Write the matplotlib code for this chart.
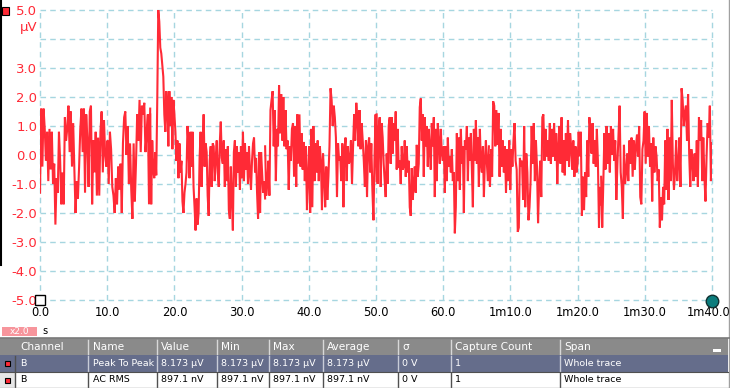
import numpy as np
import matplotlib
matplotlib.use("Agg")
import matplotlib.pyplot as plt
import matplotlib.transforms as mtransforms
from matplotlib.patches import Rectangle

# ---------------- data (μV), six consecutive stretches of the trace ----------------
seg1_span = (0.0, 16.4)
seg1 = [-1.3, 1.6, -0.4, 1.6, 0.9, -0.2, 0.8, -0.9, 0.9, -0.5, 0.8, -1.0, -0.3, -2.4, -0.8, -1.3,
        0.8, -0.2, -1.7, -0.6, -1.7, 1.3, 0.5, 0.9, 1.7, 0.1, 1.5, -0.4, 1.1, -0.5, -2.0, -0.9,
        -1.5, -0.4, 0.9, 1.6, 0.1, 1.6, -1.3, 1.4, 0.5, -1.1, 1.5, 1.7, -1.7, 0.5, -0.6, 0.8,
        -1.4, 0.6, -1.4, 0.8, 1.5, -0.6, 1.2, 0.0, -0.4, 0.5, -1.0, 0.8, 0.2, -1.1, -1.4, -2.0,
        -0.8, -1.7, -0.4, -1.2, -0.3, -2.0, 0.4, 1.3, 1.5, 0.0, 1.0, -1.0, 0.4, -1.2, -2.2, 0.4,
        -1.6, -0.3, 1.4, 0.5, 1.9, 0.1, 1.7, 1.4, 1.8, 0.1, 0.8, 1.4, -1.7, 1.6]

seg2_span = (16.4, 33.5)
seg2 = [1.4, -1.7, 0.5, -0.5, -0.8, 0.1, -0.7, 1.9, 5.0, 4.6, 3.7, 3.5, 3.1, 2.7, 1.4, 0.8,
        2.2, 1.7, 0.3, 2.2, 1.0, 2.0, 0.2, 1.9, 1.4, 0.8, -0.2, 0.5, -0.8, 0.4, -0.6, -0.2,
        -1.6, -2.0, -1.3, -1.0, -0.6, 1.0, 0.3, -0.8, 0.8, -0.4, 0.8, -1.1, -1.8, -2.6, -1.5, -2.4,
        -2.0, -0.1, 0.8, -1.1, 0.3, 1.4, -0.4, 0.4, 0.1, -1.4, -2.1, -0.2, 0.3, -1.1, 0.4, 0.3,
        -0.9, -0.1, 0.5, -0.6, -1.1, 0.4, 1.15, -0.1, -0.3, 0.5, -1.1, 0.2, -0.9, 0.3, -1.9, -2.2,
        -0.4, -1.5, -2.6, 0.1, 0.5, -1.1, 0.3, -0.6, 0.1, -1.2, 0.3, -0.8, 0.8, -0.9, 0.4, -0.5,
        0.1, -1.0, 0.3, -0.6, -1.2, -0.2, 0.4, 0.6, -0.6, -0.1, -1.3, -2.2, 0.1, -2.0, 0.1, -0.6,
        -1.3, -0.9, -1.5]

seg3_span = (33.5, 50.1)
seg3 = [0.3, -1.4, -1.0, -0.2, -1.4, 1.55, 1.9, 2.2, 0.3, 1.55, -0.9, 0.9, 0.3, 2.4, 0.75, 2.1,
        0.5, 2.0, 0.3, 1.55, 0.2, 0.5, -1.2, 0.3, -0.2, 0.9, 1.1, -0.75, 1.0, -1.1, 1.4, -0.3,
        1.4, -0.4, 0.75, -0.5, 0.45, -0.9, 0.3, -1.9, -0.75, 0.3, -2.0, 0.9, -1.8, 1.0, -0.9, 0.4,
        -0.6, 0.5, -0.9, 0.3, -0.2, -1.9, 0.05, -0.75, -1.8, -0.4, -1.55, -0.75, 0.3, 2.3, 1.9, 1.0,
        1.7, 1.3, 0.6, -1.45, 0.4, -0.2, -0.05, -0.9, 0.4, -1.8, 0.15, 0.6, -0.9, 0.3, -0.3, -0.2,
        0.5, -1.0, 0.3, 1.4, 0.5, 1.8, 1.2, 0.3, 1.55, 0.2, 1.1, 0.5, -0.2, -1.1, 0.5, -1.45,
        0.3, 0.6, -0.6, 0.4, -1.2, -2.25, -0.05, 1.4, -0.9]

seg4_span = (50.1, 66.8)
seg4 = [1.4, -1.0, 0.9, 1.3, -1.1, 1.1, 0.6, -0.3, -0.9, -1.45, 0.05, -1.0, 1.0, 1.3, -0.3, 1.3,
        0.05, 1.1, 0.5, 1.5, -0.5, 0.9, -0.45, -0.2, -1.0, 0.3, -0.5, -0.4, 0.5, -0.75, 0.3, -0.6,
        -0.2, -1.8, -2.1, -0.45, -1.55, -1.0, -0.4, -1.3, 0.35, -0.75, -0.3, 1.65, 1.95, 0.5, 1.4, -0.75,
        1.3, 0.3, 1.0, -0.4, 0.9, 0.2, -0.5, 1.1, 0.3, 1.3, -1.45, 0.9, -0.9, 1.1, 0.4, -0.3,
        0.9, 0.05, -0.2, 0.3, -1.3, 0.3, -0.9, 0.6, -0.4, -0.05, -0.6, 0.2, -0.9, -0.6, -2.7, -1.8,
        0.75, -0.9, 0.6, -1.2, 0.9, -0.3, 0.3, -2.0, 0.5, 0.2, 1.0, -0.9, 0.6, -0.2, 0.75, -0.5,
        -1.8, 0.9, -0.2, 1.2, -0.3, 0.6, -1.1, 0.9, -0.3, -0.6, 0.3, -1.45, -0.2, 0.5, -0.3, -0.9, 0.3]

seg5_span = (66.8, 83.5)
seg5 = [0.0, -1.1, 0.2, -0.75, 1.85, 1.7, 0.3, 1.55, 0.35, 1.45, -0.75, 0.9, -0.4, 0.5, -0.6, 0.3,
        -1.3, 0.2, -0.9, 0.5, -1.2, 0.2, -0.4, 0.5, 1.1, -0.2, -0.5, -2.65, -2.5, -0.1, -0.4, -0.2,
        -1.55, 1.0, -1.8, 0.05, -0.6, -2.25, -1.8, -0.9, 1.0, -0.3, 1.1, -0.9, 0.5, -0.4, -2.35, -1.0,
        -0.2, -1.45, 1.3, 1.4, -0.2, 0.9, -0.05, 0.5, -0.2, 1.1, -0.3, 0.9, -0.05, 1.1, -0.2, 0.75,
        -1.0, 0.3, 1.0, -0.3, 1.3, -0.6, 0.5, -0.7, 0.75, -0.2, 1.2, -0.4, 0.75, 0.3, -0.5, 0.5,
        -0.75, 0.3, -0.6, -0.3, 0.8, -0.05, 0.8, -2.1, -0.75, -1.9, -0.6, -1.45, 0.5, -0.75, 1.3, 0.9,
        0.05, 1.1, -0.3, 0.5, -0.4, 0.9, -0.2, -2.5, -1.1, -1.7]

seg6_span = (83.5, 100.0)
seg6 = [-0.75, -2.5, -1.0, 0.75, -0.5, 1.0, -0.3, 0.75, -0.6, 1.0, 0.0, 0.9, -0.2, 0.5, -1.55, -0.3,
        0.7, 1.7, -0.6, -1.1, -2.2, 0.35, -1.0, -0.6, 0.05, -0.9, 0.5, -0.3, 0.6, -0.75, 0.5, -0.5,
        0.3, 0.7, -0.05, 1.0, -1.45, -1.7, 0.2, 0.5, 1.5, -0.3, 1.45, -0.05, 1.0, -0.4, 0.4, -1.6,
        0.6, -0.6, 0.3, -0.05, -0.9, -0.5, -2.5, -1.45, -2.25, -1.1, -1.7, 0.5, -1.2, 0.9, -1.55, 0.6,
        -0.9, 1.9, -0.3, -1.2, -0.6, 0.5, -0.9, -0.3, 0.6, -1.1, 2.3, 1.9, 1.0, 1.45, 1.7, 0.5,
        2.1, 0.05, -1.1, 0.2, -0.2, -0.9, 0.05, -0.75, 0.5, -1.1, 1.3, 0.5, 1.2, -0.9, 0.6, -0.75,
        -1.6, -0.05, 1.1, 0.6, 1.7, -0.9, 0.4]

segments = [(seg1_span, seg1), (seg2_span, seg2), (seg3_span, seg3),
            (seg4_span, seg4), (seg5_span, seg5), (seg6_span, seg6)]

x_ticks = [0, 10, 20, 30, 40, 50, 60, 70, 80, 90, 100]
x_tick_labels = ["0.0", "10.0", "20.0", "30.0", "40.0", "50.0", "60.0",
                 "1m10.0", "1m20.0", "1m30.0", "1m40.0"]
y_ticks = [5, 3, 2, 1, 0, -1, -2, -3, -4, -5]
y_tick_labels = ["5.0", "3.0", "2.0", "1.0", "0.0", "-1.0", "-2.0", "-3.0", "-4.0", "-5.0"]
y_unit = "μV"

table_cols = ["Channel", "Name", "Value", "Min", "Max", "Average", "σ", "Capture Count", "Span"]
table_rows = [
    ["B", "Peak To Peak", "8.173 μV", "8.173 μV", "8.173 μV", "8.173 μV", "0 V", "1", "Whole trace"],
    ["B", "AC RMS", "897.1 nV", "897.1 nV", "897.1 nV", "897.1 nV", "0 V", "1", "Whole trace"],
]
zoom_label = "x2.0"
x_unit = "s"

# ---------------- figure ----------------
W, H = 730, 388
fig = plt.figure(figsize=(W / 100, H / 100), dpi=100)
fig.patch.set_facecolor("white")
plt.rcParams["font.family"] = ["DejaVu Sans"]

RED = "#FF2A36"
GRID = "#A6D6E0"

ax = fig.add_axes([40 / W, 1 - 300 / H, 672 / W, 290 / H])
ax.set_facecolor("white")
for s in ax.spines.values():
    s.set_visible(False)
ax.set_xlim(0, 100)
ax.set_ylim(-5, 5)

for xv in x_ticks:
    ax.axvline(xv, color=GRID, lw=1.0, ls=(0, (4, 3)), clip_on=False, zorder=0)
for yv in range(-5, 6):
    ax.axhline(yv, color=GRID, lw=1.0, ls=(0, (4, 3)), clip_on=False, zorder=0)

for (t0, t1), vals in segments:
    t = np.linspace(t0, t1, len(vals))
    ax.plot(t, vals, color=RED, lw=1.5, zorder=3, solid_joinstyle="miter")

ax.set_xticks(x_ticks)
ax.set_xticklabels(x_tick_labels, fontsize=8.3, color="black")
ax.set_yticks(y_ticks)
ax.set_yticklabels(y_tick_labels, fontsize=9.5, color=RED)
ax.tick_params(axis="both", length=0)
ax.tick_params(axis="x", pad=4)
ax.tick_params(axis="y", pad=2)
# keep the last x label inside the picture
last = ax.get_xticklabels()[-1]
last.set_transform(last.get_transform() +
                   mtransforms.ScaledTranslation(-3 / 100, 0, fig.dpi_scale_trans))
ax.text(-0.3, 4.41, y_unit, color=RED, fontsize=9.5, ha="right", va="center",
        transform=ax.transData, clip_on=False)

# markers on the axes
ax.plot([0], [-5], marker="s", ms=7, mfc="white", mec="black", mew=1.0, clip_on=False, zorder=5)
ax.plot([100], [-5.04], marker="o", ms=9, mfc="#0B7C7C", mec="#103030", mew=1.0,
        clip_on=False, zorder=5)

# ---------------- overlay in pixel coordinates ----------------
ov = fig.add_axes([0, 0, 1, 1])
ov.set_xlim(0, W)
ov.set_ylim(H, 0)
ov.axis("off")
ov.patch.set_visible(False)

# left marker and border
ov.plot([0.5, 0.5], [0, 265], color="black", lw=1.5)
ov.add_patch(Rectangle((2, 7), 7, 8, facecolor=RED, edgecolor="black", lw=0.8))
ov.plot([728.5, 728.5], [0, H], color="#A0A0A0", lw=1.0)

# zoom label
ov.add_patch(Rectangle((2, 327), 35, 9, facecolor="#F7959C", edgecolor="none"))
ov.text(19.5, 331.8, zoom_label, color="white", fontsize=6.5, ha="center", va="center")
ov.text(42, 331, x_unit, color="black", fontsize=7, ha="left", va="center")

# table
ov.plot([0, W], [337.5, 337.5], color="#7A7A7A", lw=1.2)
sep_x = [15, 88, 157, 217, 269, 323, 398, 451, 560]
text_x = [20, 93, 161, 221, 273, 327, 402, 455, 564]
ov.add_patch(Rectangle((0, 338), 728, 17, facecolor="#8A8A8A", edgecolor="none"))
ov.add_patch(Rectangle((0, 355), 728, 17, facecolor="#656D8B", edgecolor="none"))
ov.add_patch(Rectangle((0, 372), 728, 16, facecolor="white", edgecolor="none"))
ov.add_patch(Rectangle((0, 372), 15, 16, facecolor="#E6E6E6", edgecolor="none"))
for sx in sep_x[1:]:
    ov.plot([sx, sx], [340, 354], color="#D8D8D8", lw=1.0)
    ov.plot([sx, sx], [356, 371], color="#C8CCD8", lw=1.0)
    ov.plot([sx, sx], [373, 388], color="#505050", lw=1.0)
ov.plot([15, 15], [356, 388], color="#505050", lw=1.0)
ov.plot([0, 728], [372, 372], color="#505050", lw=0.8)
ov.plot([0, 728], [387.5, 387.5], color="#909090", lw=1.0)
for tx, name in zip(text_x, table_cols):
    ov.text(tx, 347, name, color="white", fontsize=7.6, ha="left", va="center")
ov.add_patch(Rectangle((713, 349), 8, 3, facecolor="white", edgecolor="none"))
for ri, row in enumerate(table_rows):
    yc = 363.5 + ri * 16.5
    col = "white" if ri == 0 else "black"
    ov.add_patch(Rectangle((4.5, yc - 2.5), 5, 5, facecolor=RED, edgecolor="black", lw=0.8))
    for tx, val in zip(text_x, row):
        ov.text(tx, yc, val, color=col, fontsize=6.8, ha="left", va="center")

fig.savefig("out.png", dpi=100, facecolor="white")
